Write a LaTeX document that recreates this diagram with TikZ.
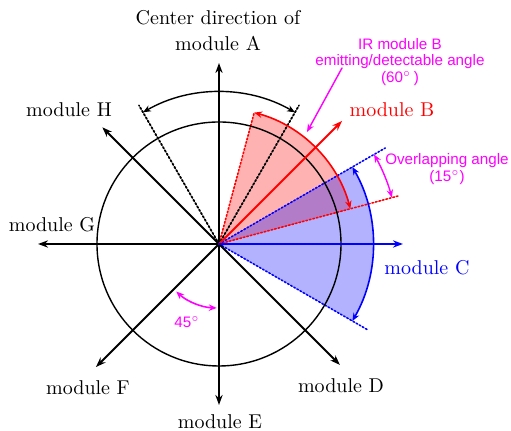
\documentclass[tikz,border=0pt]{standalone}
\usepackage{fontspec}
\newfontfamily\notefont{Liberation Sans}
\usetikzlibrary{arrows.meta,calc}
\definecolor{NoteMagenta}{HTML}{FF00FF}
\definecolor{BeamRed}{HTML}{FF0000}
\definecolor{BeamBlue}{HTML}{0000FF}
\tikzset{
  axis/.style={line width=1pt,-{Stealth[length=5pt,width=3.6pt]}},
  note/.style={text=NoteMagenta,font=\notefont\fontsize{7.6}{8.3}\selectfont,align=center},
  label/.style={align=center,inner sep=1pt}
}

\begin{document}
\begin{tikzpicture}[x=0.5pt,y=0.5pt,line cap=round,line join=round,>={Stealth[length=4pt,width=3.2pt]}]
  \useasboundingbox (-219,-187) rectangle (292,244);
  \coordinate (O) at (0,0);
  % beam sectors of module B and module C
  \fill[BeamRed,fill opacity=.3] (O)--(15:136) arc[start angle=15,end angle=75,radius=136]--cycle;
  \fill[BeamBlue,fill opacity=.3] (O)--(-30:154) arc[start angle=-30,end angle=30,radius=154]--cycle;
  \draw[BeamRed,densely dotted,thick] (O)--(75:136);\draw[BeamRed,densely dotted,thick] (O)--(15:186);
  \draw[BeamBlue,densely dotted,thick] (O)--(30:192);\draw[BeamBlue,densely dotted,thick] (O)--(-30:171);
  \draw[densely dotted,line width=.9pt] (O)--(60:160);\draw[densely dotted,line width=.9pt] (O)--(120:160);
  \draw[line width=.7pt] (O) circle[radius=122];
  % angle arcs
  \draw[<->,line width=.7pt] (60:152) arc[start angle=60,end angle=120,radius=152];
  \draw[BeamRed,<->,line width=.8pt] (15:136) arc[start angle=15,end angle=75,radius=136];
  \draw[BeamBlue,<->,line width=.8pt] (-30:154) arc[start angle=-30,end angle=30,radius=154];
  \draw[NoteMagenta,<->,line width=.7pt] (15:179) arc[start angle=15,end angle=30,radius=179];
  \draw[NoteMagenta,<->,line width=.8pt] (228:64) arc[start angle=228,end angle=268,radius=64];
  % module directions
  \foreach \name/\ang/\len in {A/90/181,D/-45/171,E/-90/161,F/-135/174,G/180/181,H/135/165}{
    \coordinate (tip\name) at (\ang:\len);
    \draw[axis] (O)--(tip\name);
  }
  \coordinate (tipB) at (45:174);\coordinate (tipC) at (0:184);
  \draw[axis,BeamRed] (O)--(tipB);
  \draw[axis,BeamBlue] (O)--(tipC);
  % labels
  \node[label] (labA) at (-1,213) {Center direction of\\[1pt]module A};
  \node[label] (labH) at (-150,134) {module H};
  \node[label] (labG) at (-167,19) {module G};
  \node[label] (labF) at (-131,-144) {module F};
  \node[label] (labE) at (1,-178) {module E};
  \node[label] (labD) at (122,-142) {module D};
  \node[label,text=BeamBlue] (labC) at (208,-24) {module C};
  \node[label,text=BeamRed] (labB) at (173,134) {module B};
  \node[note] (irnote) at (181,182) {IR module B\\emitting/detectable angle\\(60$^{\circ}$\,)};
  \node[note] (overlap) at (228,75) {Overlapping angle\\(15$^{\circ}$)};
  \node[note] (quarter) at (-32,-78) {45$^{\circ}$};
  \coordinate (irfrom) at (123,176);\coordinate (irto) at (88,112);
  \draw[NoteMagenta,->,line width=.7pt] (irfrom)--(irto);
\end{tikzpicture}
\end{document}
